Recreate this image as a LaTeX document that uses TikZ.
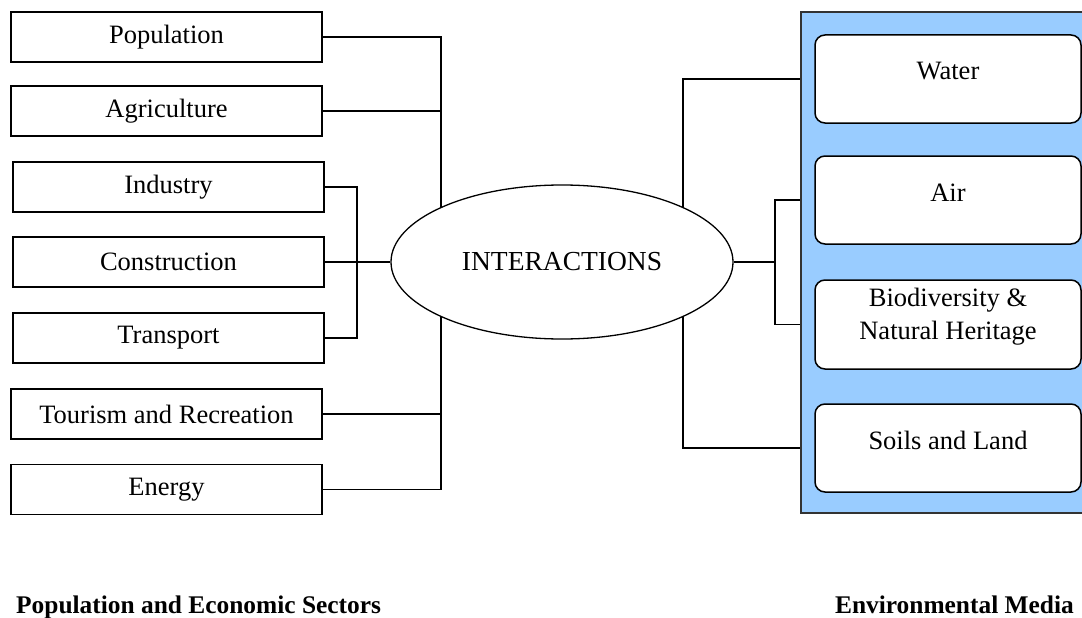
\documentclass[tikz,border=0pt]{standalone}
\usepackage{fontspec}
\setmainfont{Liberation Serif}
\usetikzlibrary{shapes.geometric,backgrounds}
\definecolor{mediablue}{HTML}{99CCFF}

\begin{document}
\begin{tikzpicture}[x=1pt,y=-1pt,
        sector/.style={draw,line width=1.3pt,minimum width=311pt,minimum height=50pt,inner sep=0pt,font=\fontsize{26.5}{33}\selectfont},
        medium/.style={draw,fill=white,line width=1.5pt,rounded corners=10pt,minimum width=266pt,minimum height=88pt,inner sep=0pt},
        mediumtext/.style={font=\fontsize{26.5}{33}\selectfont,align=center,yshift=7.5pt},
        caption/.style={font=\bfseries\fontsize{25.4}{30}\selectfont,inner sep=0pt},
        wire/.style={line width=1.2pt},
        stub/.style={line width=2pt}]
            \useasboundingbox (0,0) rectangle (1082,618);

            \node[sector] (pop) at (166.5,37) {Population};
            \node[sector] (agri) at (166.5,111) {Agriculture};
            \node[sector] (ind) at (168.5,187) {Industry};
            \node[sector] (cons) at (168.5,262) {Construction};
            \node[sector] (trans) at (168.5,338) {Transport};
            \node[sector] (tour) at (166.5,414) {Tourism and Recreation};
            \node[sector] (ener) at (166.5,489.5) {Energy};

            \node[draw,ellipse,fill=white,line width=1.3pt,minimum width=342pt,minimum height=154pt,inner sep=0pt,
                font=\fontsize{27.5}{33}\selectfont] (inter) at (562,262) {INTERACTIONS};

            \node[draw=black!80,fill=mediablue,line width=1.3pt,minimum width=299pt,minimum height=501pt,inner sep=0pt] (media) at (950.5,262.5) {};
            \node[medium,label={[mediumtext]center:Water}] (water) at (948,79) {};
            \node[medium,label={[mediumtext]center:Air}] (air) at (948,200) {};
            \node[medium,minimum height=89pt,label={[mediumtext]center:Biodiversity \&\\Natural Heritage}] (bio) at (948,324.5) {};
            \node[medium,label={[mediumtext]center:Soils and Land}] (soil) at (948,448) {};

            \coordinate (ltrunk) at (441,262);
            \coordinate (lbranch) at (357,262);
            \coordinate (rtrunk) at (683,262);
            \coordinate (rbranch) at (775,262);

            \begin{scope}[on background layer]
                \draw[wire] (pop.east) -| (ltrunk);
                \draw[wire] (agri.east) -| (ltrunk);
                \draw[wire] (tour.east) -| (ltrunk);
                \draw[wire] (ener.east) -| (ltrunk);
                \draw[wire] (ind.east) -| (lbranch);
                \draw[wire] (trans.east) -| (lbranch);
                \draw[wire] (cons.east) -- (lbranch);
                \draw[stub] (lbranch) -- (inter.west);
                \draw[stub] (inter.east) -- (rbranch);
                \draw[wire] (rbranch) |- (media.west |- air);
                \draw[wire] (rbranch) |- (media.west |- bio);
                \draw[wire] (rtrunk) |- (media.west |- water);
                \draw[wire] (rtrunk) |- (media.west |- soil);
            \end{scope}

            \node[caption,anchor=base west] (sectors) at (16,613) {Population and Economic Sectors};
            \node[caption,anchor=base east] (envmedia) at (1074,613) {Environmental Media};
        \end{tikzpicture}
\end{document}
